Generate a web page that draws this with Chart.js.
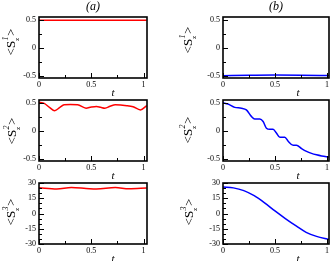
<!DOCTYPE html>
<html>
<head>
<meta charset="utf-8">
<script src="https://cdn.jsdelivr.net/npm/chart.js@4"></script>
<style>
  html, body { margin: 0; padding: 0; background: #fff; }
  #wrap { position: relative; width: 332px; height: 261px; }
  canvas { position: absolute; left: 0; top: 0; }
</style>
</head>
<body>
<div id="wrap">
  <canvas id="c0" width="332" height="261"></canvas>
  <canvas id="c1" width="332" height="261"></canvas>
  <canvas id="c2" width="332" height="261"></canvas>
  <canvas id="c3" width="332" height="261"></canvas>
  <canvas id="c4" width="332" height="261"></canvas>
  <canvas id="c5" width="332" height="261"></canvas>
</div>
<script>
// values
const t1a = [0, 1.03];
const s1a = [0.5, 0.5];
const t1b = [0, 0.25, 0.5, 0.75, 1.02];
const s1b = [-0.488, -0.481, -0.476, -0.479, -0.486];

const t2a = [0, 0.05, 0.1, 0.15, 0.2, 0.24, 0.3, 0.37, 0.45, 0.5, 0.55, 0.59, 0.63, 0.68, 0.73, 0.84, 0.9, 0.97, 1.03];
const s2a = [0.51, 0.49, 0.42, 0.36, 0.42, 0.465, 0.47, 0.465, 0.406, 0.425, 0.435, 0.42, 0.406, 0.44, 0.465, 0.45, 0.43, 0.375, 0.45];
const t2b = [0, 0.048, 0.113, 0.177, 0.225, 0.273, 0.305, 0.354, 0.386, 0.418, 0.45, 0.482, 0.514, 0.547, 0.595, 0.627, 0.675, 0.707, 0.756, 0.804, 0.852, 0.9, 0.949, 1.02];
const s2b = [0.5, 0.48, 0.42, 0.405, 0.375, 0.26, 0.215, 0.215, 0.17, 0.05, 0.03, 0.03, -0.035, -0.11, -0.11, -0.18, -0.25, -0.25, -0.31, -0.36, -0.395, -0.42, -0.44, -0.46];

const t3a = [0, 0.17, 0.31, 0.45, 0.55, 0.73, 0.86, 1.03];
const s3a = [25.3, 24, 25.5, 24.6, 24, 25.5, 24.3, 25];
const t3b = [0, 0.1, 0.2, 0.3, 0.4, 0.5, 0.6, 0.7, 0.8, 0.9, 1.02];
const s3b = [26, 25.2, 22.5, 17.5, 10.5, 2.5, -5, -12, -18.5, -22.5, -25.5];

const xTicks = [0, 0.25, 0.5, 0.75, 1];
const xLabels = [0, 0.5, 1];
const spinTicks = [-0.5, -0.25, 0, 0.25, 0.5];
const spinLabels = [-0.5, 0, 0.5];
const s3Ticks = [-30, -25, -20, -15, -10, -5, 0, 5, 10, 15, 20, 25, 30];
const s3Labels = [-30, -15, 0, 15, 30];

const SERIF = '"Liberation Serif", "Times New Roman", Times, "DejaVu Serif", serif';
Chart.defaults.font.family = SERIF;
Chart.defaults.font.size = 8;
Chart.defaults.color = '#000';

const W = 332, H = 261;
const Y_W = 30, X_H = 14;

const panels = [
  { t: t1a, s: s1a, color: '#ff0000', xMax: 1.033, yMin: -0.53, yMax: 0.56, yt: spinTicks, yl: spinLabels,
    box: [39, 147, 17, 78], n: '1', title: '(a)', yc: 42, ytx: 12, tx: 113 },
  { t: t1b, s: s1b, color: '#0000ff', xMax: 1.02, yMin: -0.53, yMax: 0.56, yt: spinTicks, yl: spinLabels,
    box: [223, 329, 17, 78], n: '1', title: '(b)', yc: 40, ytx: 189, tx: 298 },
  { t: t2a, s: s2a, color: '#ff0000', xMax: 1.033, yMin: -0.53, yMax: 0.55, yt: spinTicks, yl: spinLabels,
    box: [39, 147, 100, 161], n: '2', yc: 131, ytx: 13, tx: 113 },
  { t: t2b, s: s2b, color: '#0000ff', xMax: 1.02, yMin: -0.53, yMax: 0.55, yt: spinTicks, yl: spinLabels,
    box: [223, 329, 100, 161], n: '2', yc: 130, ytx: 189, tx: 298 },
  { t: t3a, s: s3a, color: '#ff0000', xMax: 1.033, yMin: -30, yMax: 30, yt: s3Ticks, yl: s3Labels,
    box: [39, 147, 183, 244], n: '3', yc: 212, ytx: 12, tx: 113 },
  { t: t3b, s: s3b, color: '#0000ff', xMax: 1.02, yMin: -30, yMax: 30, yt: s3Ticks, yl: s3Labels,
    box: [223, 329, 183, 244], n: '3', yc: 212, ytx: 190, tx: 298 }
];

function isIn(list, v) {
  return list.some(m => Math.abs(m - v) < 1e-9);
}

// <S^n_z> rotated, drawn bottom-to-top
function drawYTitle(ctx, x, y, n) {
  ctx.save();
  ctx.translate(x, y);
  ctx.rotate(-Math.PI / 2);
  ctx.fillStyle = '#000';
  ctx.textBaseline = 'middle';
  const big = '13px ' + SERIF;
  const small = 'italic 8px ' + SERIF;
  const tiny = '7px ' + SERIF;
  ctx.font = big;
  const wl = ctx.measureText('<').width;
  const ws = ctx.measureText('S').width;
  const wg = ctx.measureText('>').width;
  ctx.font = small;
  const wn = ctx.measureText(n).width;
  const total = wl + ws + wn + 1 + wg;
  let cx = -total / 2;
  ctx.font = big;
  ctx.textAlign = 'left';
  ctx.fillText('<', cx, 0);
  cx += wl;
  ctx.fillText('S', cx, 0);
  cx += ws;
  ctx.font = small;
  ctx.fillText(n, cx + 0.5, -6.5);
  ctx.font = tiny;
  ctx.fillText('z', cx, 5);
  cx += wn + 1;
  ctx.font = big;
  ctx.fillText('>', cx, 0);
  ctx.restore();
}

const framePlugin = {
  id: 'frame',
  afterDraw(chart, args, opts) {
    const p = opts.panel;
    const { ctx, chartArea: a, scales } = chart;
    ctx.save();
    ctx.strokeStyle = '#000';
    ctx.lineWidth = 1;
    scales.x.ticks.forEach(tk => {
      const px = Math.round(scales.x.getPixelForValue(tk.value)) + 0.5;
      const len = isIn(xLabels, tk.value) ? 5 : 3;
      ctx.beginPath();
      ctx.moveTo(px, a.bottom);
      ctx.lineTo(px, a.bottom - len);
      ctx.stroke();
    });
    scales.y.ticks.forEach(tk => {
      const py = Math.round(scales.y.getPixelForValue(tk.value)) + 0.5;
      const len = isIn(p.yl, tk.value) ? 5 : 3;
      ctx.beginPath();
      ctx.moveTo(a.left, py);
      ctx.lineTo(a.left + len, py);
      ctx.stroke();
    });
    ctx.lineWidth = 1.6;
    ctx.strokeRect(a.left, a.top, a.right - a.left, a.bottom - a.top);

    ctx.fillStyle = '#000';
    ctx.textAlign = 'center';
    ctx.textBaseline = 'middle';
    if (p.title) {
      ctx.font = 'italic 12px ' + SERIF;
      ctx.fillText(p.title, (a.left + a.right) / 2, 7);
    }
    ctx.font = 'italic 11px ' + SERIF;
    ctx.fillText('t', p.tx, a.bottom + 15);
    ctx.restore();
    drawYTitle(ctx, p.ytx, p.yc, p.n);
  }
};

panels.forEach((p, i) => {
  const [l, r, top, bottom] = p.box;
  new Chart(document.getElementById('c' + i), {
    type: 'line',
    data: {
      datasets: [{
        data: p.t.map((tv, k) => ({ x: tv, y: p.s[k] })),
        borderColor: p.color,
        borderWidth: 1.5,
        pointRadius: 0,
        cubicInterpolationMode: 'monotone',
        fill: false
      }]
    },
    options: {
      responsive: false,
      animation: false,
      events: [],
      layout: {
        padding: { left: l - Y_W, right: W - r, top: top, bottom: H - bottom - X_H }
      },
      plugins: {
        legend: { display: false },
        tooltip: { enabled: false },
        frame: { panel: p }
      },
      scales: {
        x: {
          type: 'linear',
          min: 0,
          max: p.xMax,
          afterBuildTicks: sc => { sc.ticks = xTicks.map(v => ({ value: v })); },
          afterFit: sc => { sc.height = X_H; },
          grid: { display: false, drawTicks: false },
          border: { display: false },
          ticks: {
            padding: 2,
            maxRotation: 0,
            autoSkip: false,
            callback: v => isIn(xLabels, v) ? String(v) : ''
          }
        },
        y: {
          type: 'linear',
          min: p.yMin,
          max: p.yMax,
          afterBuildTicks: sc => { sc.ticks = p.yt.map(v => ({ value: v })); },
          afterFit: sc => { sc.width = Y_W; },
          grid: { display: false, drawTicks: false },
          border: { display: false },
          ticks: {
            padding: 3,
            autoSkip: false,
            callback: v => isIn(p.yl, v) ? String(v) : ''
          }
        }
      }
    },
    plugins: [framePlugin]
  });
});
</script>
</body>
</html>
